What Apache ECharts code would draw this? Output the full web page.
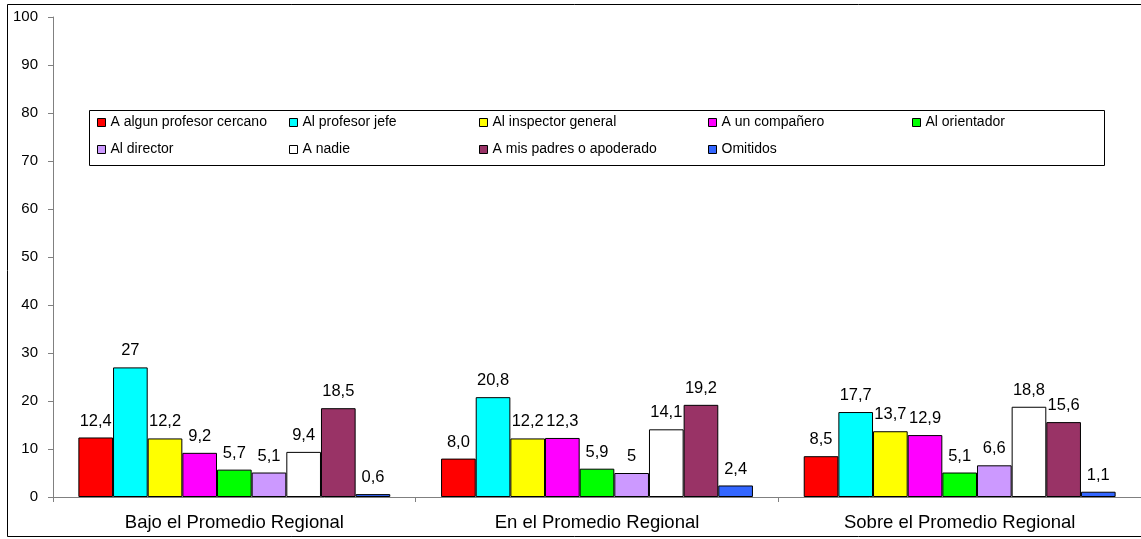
<!DOCTYPE html>
<html>
<head>
<meta charset="utf-8">
<script src="https://cdn.jsdelivr.net/npm/echarts@6/dist/echarts.min.js"></script>
<style>
  html, body { margin: 0; padding: 0; background: #ffffff; }
  #chart { width: 1141px; height: 539px; }
</style>
</head>
<body>
<div id="chart"></div>
<script>
// Categories along the x axis
const categories = ['Bajo el Promedio Regional', 'En el Promedio Regional', 'Sobre el Promedio Regional'];

// Answer options (one series each)
const seriesNames = [
  'A algun profesor cercano', 'Al profesor jefe', 'Al inspector general',
  'A un compañero', 'Al orientador', 'Al director',
  'A nadie', 'A mis padres o apoderado', 'Omitidos'
];

// Percentages per answer option, in category order
const valRed      = [12.4, 8.0, 8.5];
const valCyan     = [27, 20.8, 17.7];
const valYellow   = [12.2, 12.2, 13.7];
const valMagenta  = [9.2, 12.3, 12.9];
const valGreen    = [5.7, 5.9, 5.1];
const valLavender = [5.1, 5, 6.6];
const valWhite    = [9.4, 14.1, 18.8];
const valMaroon   = [18.5, 19.2, 15.6];
const valBlue     = [0.6, 2.4, 1.1];
const seriesValues = [valRed, valCyan, valYellow, valMagenta, valGreen, valLavender, valWhite, valMaroon, valBlue];

// Printed value labels (decimal comma)
const labelTexts = [
  ['12,4', '8,0', '8,5'],
  ['27', '20,8', '17,7'],
  ['12,2', '12,2', '13,7'],
  ['9,2', '12,3', '12,9'],
  ['5,7', '5,9', '5,1'],
  ['5,1', '5', '6,6'],
  ['9,4', '14,1', '18,8'],
  ['18,5', '19,2', '15,6'],
  ['0,6', '2,4', '1,1']
];

// Y axis tick labels
const yTicks = [0, 10, 20, 30, 40, 50, 60, 70, 80, 90, 100];

const colors = ['#FF0000', '#00FFFF', '#FFFF00', '#FF00FF', '#00FF00', '#CC99FF', '#FFFFFF', '#993366', '#3366FF'];

// Legend layout: five columns, two rows
const legendColumns = [
  { left: 97,  items: [0, 5] },
  { left: 289, items: [1, 6] },
  { left: 479, items: [2, 7] },
  { left: 708, items: [3, 8] },
  { left: 912, items: [4] }
];

const FONT = 'Liberation Sans, Arial, sans-serif';

const chart = echarts.init(document.getElementById('chart'), null, { renderer: 'canvas' });

const legends = legendColumns.map(col => ({
  orient: 'vertical',
  left: col.left,
  top: 115,
  icon: 'rect',
  itemWidth: 8,
  itemHeight: 8,
  itemGap: 12,
  padding: 0,
  selectedMode: false,
  textStyle: { fontFamily: FONT, fontSize: 14, color: '#000', lineHeight: 15 },
  itemStyle: { borderColor: '#000', borderWidth: 1 },
  data: col.items.map(i => seriesNames[i])
}));

const series = seriesNames.map((name, si) => ({
  name: name,
  type: 'bar',
  barGap: '0%',
  barCategoryGap: '14%',
  itemStyle: { color: colors[si], borderColor: '#000', borderWidth: 1 },
  label: {
    show: true,
    position: 'top',
    distance: 8,
    fontFamily: FONT,
    fontSize: 16.5,
    color: '#000',
    formatter: p => labelTexts[si][p.dataIndex]
  },
  emphasis: { disabled: true },
  data: seriesValues[si]
}));

chart.setOption({
  animation: false,
  backgroundColor: '#ffffff',
  color: colors,
  graphic: [
    { type: 'rect', shape: { x: 7.5, y: 4.5, width: 1150, height: 532 }, style: { fill: 'none', stroke: '#000', lineWidth: 1 }, silent: true },
    { type: 'rect', shape: { x: 89.5, y: 110.5, width: 1015, height: 55 }, style: { fill: '#fff', stroke: '#000', lineWidth: 1 }, silent: true, z: -1 }
  ],
  legend: legends,
  grid: { left: 53, top: 17, width: 1098, height: 480, containLabel: false },
  xAxis: {
    type: 'category',
    data: categories,
    axisLine: { lineStyle: { color: '#808080', width: 1 } },
    axisTick: { show: true, alignWithLabel: false, length: 5, lineStyle: { color: '#808080' } },
    axisLabel: { fontFamily: FONT, fontSize: 18.5, color: '#000', margin: 16, interval: 0 },
    splitLine: { show: false }
  },
  yAxis: {
    type: 'value',
    min: yTicks[0],
    max: yTicks[yTicks.length - 1],
    interval: 10,
    axisLine: { show: true, lineStyle: { color: '#808080', width: 1 } },
    axisTick: { show: true, length: 5, lineStyle: { color: '#808080' } },
    axisLabel: { fontFamily: FONT, fontSize: 15, color: '#000', margin: 15 },
    splitLine: { show: false }
  },
  series: series
});
</script>
</body>
</html>
